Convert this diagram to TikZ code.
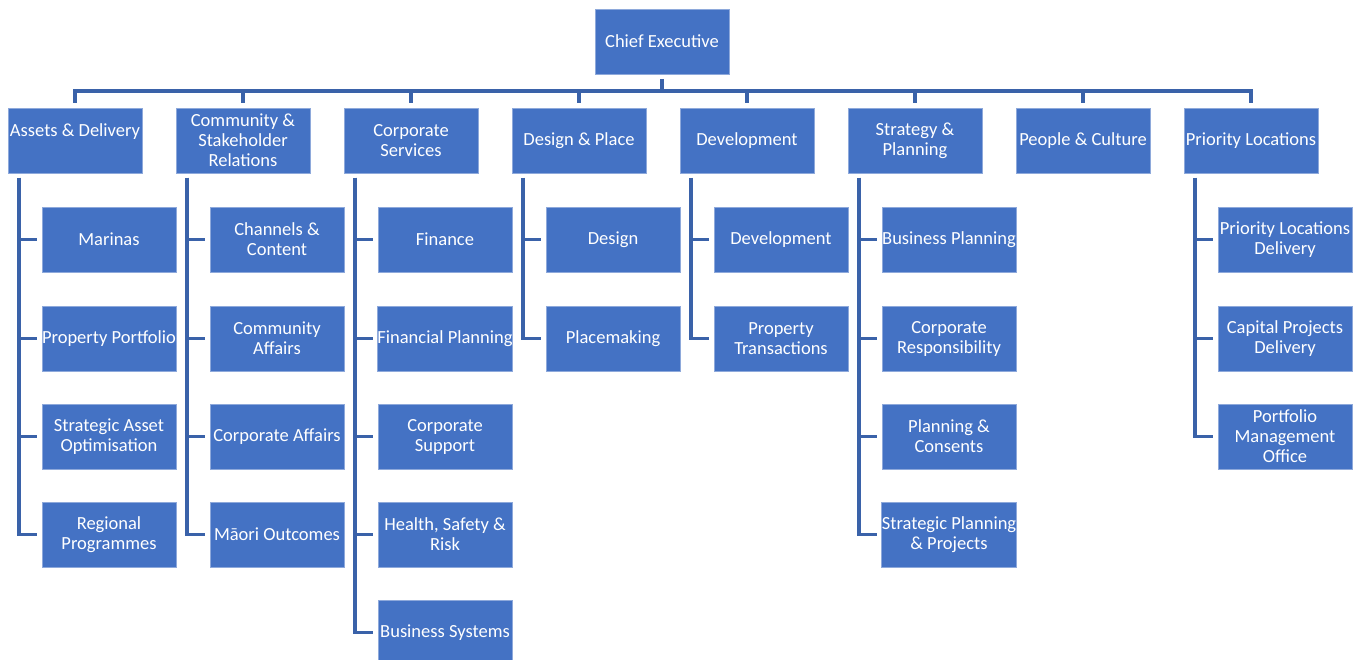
\documentclass[tikz,border=0pt]{standalone}
\usepackage{fontspec}
\setmainfont{Carlito}
\definecolor{boxblue}{HTML}{4472C4}
\definecolor{lineblue}{HTML}{3A62A9}
\definecolor{rimblue}{HTML}{8EA9DB}

\begin{document}
\begin{tikzpicture}[x=1pt,y=-1pt,
  unit/.style={rectangle, fill=boxblue, draw=rimblue, line width=0.8pt, text=white,
    minimum width=134pt, minimum height=65pt, inner sep=0pt, align=center,
    font=\fontsize{18.5}{20}\selectfont},
  link/.style={draw=lineblue, line width=3.8pt, shorten <=4.5pt, shorten >=4.5pt}]
  \useasboundingbox (0,0) rectangle (1367,659);
  \coordinate (bus) at (0,91);

  % top
  \node[unit] (ce) at (662,41.5) {Chief Executive};

  % groups
  \node[unit] (ad)  at (75,140.5)   {Assets \& Delivery\\\mbox{}};
  \node[unit] (csr) at (243,140.5)  {Community \&\\Stakeholder\\Relations};
  \node[unit] (cs)  at (411,140.5)  {Corporate\\Services};
  \node[unit] (dp)  at (579,140.5)  {Design \& Place};
  \node[unit] (dv)  at (747,140.5)  {Development};
  \node[unit] (sp)  at (915,140.5)  {Strategy \&\\Planning};
  \node[unit] (pc)  at (1083,140.5) {People \& Culture};
  \node[unit] (pl)  at (1251,140.5) {Priority Locations};

  % teams
  \node[unit] (ad1) at (109,239.5) {Marinas};
  \node[unit] (ad2) at (109,338.5) {Property Portfolio};
  \node[unit] (ad3) at (109,436.5) {Strategic Asset\\Optimisation};
  \node[unit] (ad4) at (109,534.5) {Regional\\Programmes};

  \node[unit] (csr1) at (277,239.5) {Channels \&\\Content};
  \node[unit] (csr2) at (277,338.5) {Community\\Affairs};
  \node[unit] (csr3) at (277,436.5) {Corporate Affairs};
  \node[unit] (csr4) at (277,534.5) {Māori Outcomes};

  \node[unit] (cs1) at (445,239.5) {Finance};
  \node[unit] (cs2) at (445,338.5) {Financial Planning};
  \node[unit] (cs3) at (445,436.5) {Corporate\\Support};
  \node[unit] (cs4) at (445,534.5) {Health, Safety \&\\Risk};
  \node[unit] (cs5) at (445,632.5) {Business Systems};

  \node[unit] (dp1) at (613,239.5) {Design};
  \node[unit] (dp2) at (613,338.5) {Placemaking};

  \node[unit] (dv1) at (781,239.5) {Development};
  \node[unit] (dv2) at (781,338.5) {Property\\Transactions};

  \node[unit] (sp1) at (949,239.5) {Business Planning};
  \node[unit] (sp2) at (949,338.5) {Corporate\\Responsibility};
  \node[unit] (sp3) at (949,436.5) {Planning \&\\Consents};
  \node[unit] (sp4) at (949,534.5) {Strategic Planning\\\& Projects};

  \node[unit] (pl1) at (1285,239.5) {Priority Locations\\Delivery};
  \node[unit] (pl2) at (1285,338.5) {Capital Projects\\Delivery};
  \node[unit] (pl3) at (1285,436.5) {Portfolio\\Management\\Office};

  % connectors
  \draw[link, shorten >=0pt] (ce) -- (ce |- bus);
  \draw[link, shorten <=-1.9pt, shorten >=-1.9pt] (ad |- bus) -- (pl |- bus);
  \foreach \g in {ad,csr,cs,dp,dv,sp,pc,pl}
    \draw[link, shorten <=0pt] (\g |- bus) -- (\g);

  \foreach \g/\list in {ad/{ad1,ad2,ad3,ad4}, csr/{csr1,csr2,csr3,csr4},
      cs/{cs1,cs2,cs3,cs4,cs5}, dp/{dp1,dp2}, dv/{dv1,dv2},
      sp/{sp1,sp2,sp3,sp4}, pl/{pl1,pl2,pl3}}
    \foreach \c in \list
      \draw[link] ([xshift=11pt]\g.south west) |- (\c.west);
\end{tikzpicture}
\end{document}
